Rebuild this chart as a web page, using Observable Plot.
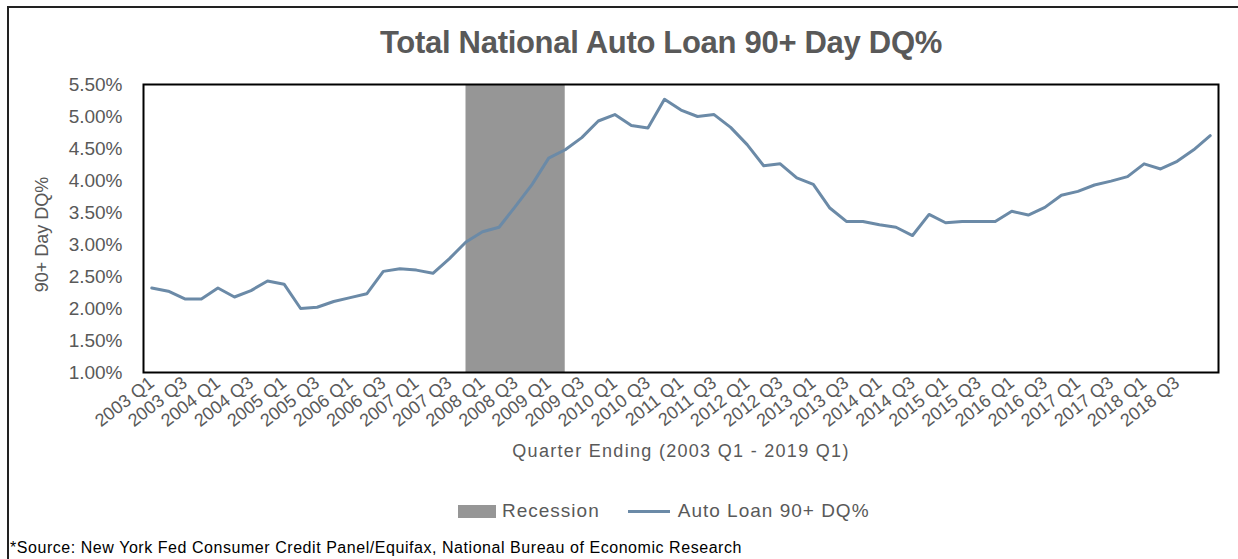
<!DOCTYPE html>
<html>
<head>
<meta charset="utf-8">
<script src="https://cdn.jsdelivr.net/npm/d3@7"></script>
<script src="https://cdn.jsdelivr.net/npm/@observablehq/plot@0.6"></script>
<style>
  html, body { margin: 0; padding: 0; background: #fff; overflow: hidden; width: 1238px; height: 559px; }
  body { position: relative; font-family: "Liberation Sans", Arial, sans-serif; color: #595959; }
  #box { position: absolute; left: 7px; top: 6px; width: 1300px; height: 600px; border-top: 2px solid #222; border-left: 2px solid #222; }
  #title { position: absolute; top: 25px; left: 661px; transform: translateX(-50%); font-size: 31px; font-weight: bold; letter-spacing: -0.3px; white-space: nowrap; }
  #chart { position: absolute; left: 0; top: 60px; }
  #xtitle { position: absolute; top: 441px; left: 681px; transform: translateX(-50%); font-size: 18px; letter-spacing: 1.3px; white-space: nowrap; }
  #legend { position: absolute; top: 500px; left: 458px; display: flex; align-items: center; font-size: 19px; letter-spacing: 1px; white-space: nowrap; }
  .sw-rect { width: 38px; height: 13px; background: #969696; margin-right: 6px; }
  .sw-line { width: 42px; height: 3px; background: #6b8aa7; margin-left: 28px; margin-right: 8px; }
  #source { position: absolute; top: 539px; left: 10px; font-size: 16px; color: #000; white-space: nowrap; letter-spacing: 0.55px; }
</style>
</head>
<body>
<div id="box"></div>
<div id="title">Total National Auto Loan 90+ Day DQ%</div>
<div id="chart"></div>
<div id="xtitle">Quarter Ending (2003 Q1 - 2019 Q1)</div>
<div id="legend"><div class="sw-rect"></div><span>Recession</span><div class="sw-line"></div><span>Auto Loan 90+ DQ%</span></div>
<div id="source">*Source: New York Fed Consumer Credit Panel/Equifax, National Bureau of Economic Research</div>
<script>
const quarters = [
  "2003 Q1","2003 Q2","2003 Q3","2003 Q4",
  "2004 Q1","2004 Q2","2004 Q3","2004 Q4",
  "2005 Q1","2005 Q2","2005 Q3","2005 Q4",
  "2006 Q1","2006 Q2","2006 Q3","2006 Q4",
  "2007 Q1","2007 Q2","2007 Q3","2007 Q4",
  "2008 Q1","2008 Q2","2008 Q3","2008 Q4",
  "2009 Q1","2009 Q2","2009 Q3","2009 Q4",
  "2010 Q1","2010 Q2","2010 Q3","2010 Q4",
  "2011 Q1","2011 Q2","2011 Q3","2011 Q4",
  "2012 Q1","2012 Q2","2012 Q3","2012 Q4",
  "2013 Q1","2013 Q2","2013 Q3","2013 Q4",
  "2014 Q1","2014 Q2","2014 Q3","2014 Q4",
  "2015 Q1","2015 Q2","2015 Q3","2015 Q4",
  "2016 Q1","2016 Q2","2016 Q3","2016 Q4",
  "2017 Q1","2017 Q2","2017 Q3","2017 Q4",
  "2018 Q1","2018 Q2","2018 Q3","2018 Q4",
  "2019 Q1"
];
const dqPct = [
  2.32, 2.27, 2.15, 2.15,
  2.32, 2.18, 2.28, 2.43,
  2.38, 2.00, 2.02, 2.11,
  2.17, 2.23, 2.58, 2.62,
  2.60, 2.55, 2.78, 3.04,
  3.20, 3.27, 3.60, 3.94,
  4.35, 4.48, 4.67, 4.93,
  5.03, 4.86, 4.82, 5.27,
  5.10, 5.00, 5.03, 4.83,
  4.56, 4.23, 4.26, 4.04,
  3.94, 3.57, 3.36, 3.36,
  3.31, 3.27, 3.14, 3.47,
  3.34, 3.36, 3.36, 3.36,
  3.52, 3.46, 3.58, 3.77,
  3.83, 3.93, 3.99, 4.06,
  4.26, 4.18, 4.30, 4.48,
  4.70
];
const recessionStart = "2007 Q4";
const recessionEnd = "2009 Q2";
const yTicks = [1.0, 1.5, 2.0, 2.5, 3.0, 3.5, 4.0, 4.5, 5.0, 5.5];
const xTickLabels = quarters.filter((q, i) => i % 2 === 0 && i < 64);

const data = quarters.map((q, i) => ({i, q, v: dqPct[i]}));
const recession = [{x1: quarters.indexOf(recessionStart), x2: quarters.indexOf(recessionEnd)}];
const xTicks = xTickLabels.map(q => quarters.indexOf(q));

const chart = Plot.plot({
  width: 1238,
  height: 410,
  marginLeft: 143,
  marginRight: 20,
  marginTop: 24,
  marginBottom: 98,
  x: {domain: [-0.5, quarters.length - 0.5]},
  y: {domain: [yTicks[0], yTicks[yTicks.length - 1]]},
  style: {fontFamily: "'Liberation Sans', Arial, sans-serif", color: "#595959", background: "transparent"},
  marks: [
    Plot.rect(recession, {x1: "x1", x2: "x2", y1: yTicks[0], y2: yTicks[yTicks.length - 1], fill: "#969696"}),
    Plot.line(data, {x: "i", y: "v", stroke: "#6b8aa7", strokeWidth: 3, strokeLinejoin: "round"}),
    Plot.axisY({ticks: yTicks, tickFormat: d => d.toFixed(2) + "%", tickSize: 0, tickPadding: 21, fontSize: 19,
      letterSpacing: 0.9, label: null}),
    Plot.text(["90+ Day DQ%"], {frameAnchor: "left", dx: -101, dy: 6, rotate: -90, textAnchor: "middle", fontSize: 18, letterSpacing: 0.8, fill: "#595959"}),
    Plot.axisX({ticks: xTicks, tickFormat: i => quarters[i], tickSize: 0, tickRotate: -38, tickPadding: 8, fontSize: 18, letterSpacing: 1, label: null}),
    Plot.frame({stroke: "#000", strokeWidth: 2})
  ]
});
document.getElementById("chart").appendChild(chart);
</script>
</body>
</html>
